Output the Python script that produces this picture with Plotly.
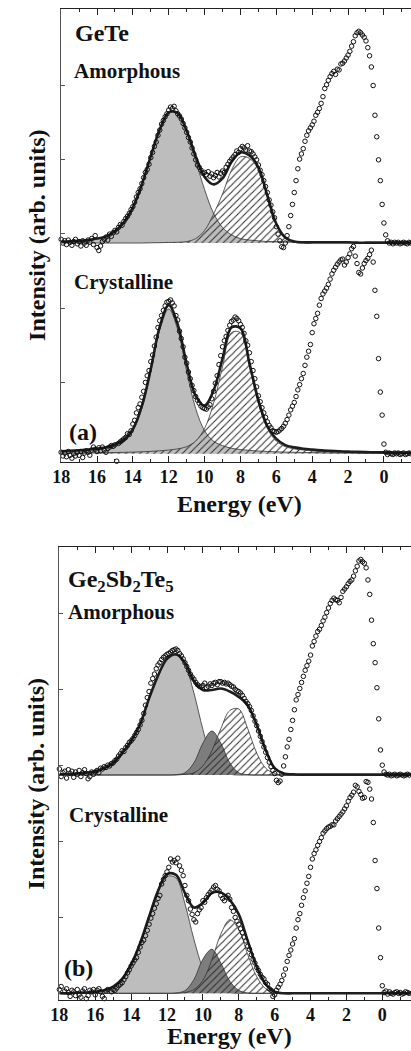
import numpy as np
import plotly.graph_objects as go

# ---------------- data (intensity above each spectrum's own baseline, arb. units) -------------
E_DATA = np.round(np.arange(18.0, -1.55, -0.1), 2)   # measured energies, 18.0 ... -1.5 eV
E_FIT = np.round(np.arange(18.0, -2.05, -0.5), 2)    # fit-curve sampling, 18.0 ... -2.0 eV

GETE_AMO = [
    0.05, 0.00, 0.03, -0.02, 0.04, 0.01, -0.03, 0.02, 0.05, -0.01,
    0.02, -0.04, 0.03, 0.00, -0.03, 0.04, 0.01, 0.06, -0.02, 0.10,
    -0.06, -0.10, -0.04, 0.02, 0.05, 0.08, 0.04, 0.12, 0.09, 0.14,
    0.17, 0.15, 0.21, 0.25, 0.24, 0.29, 0.33, 0.36, 0.40, 0.45,
    0.49, 0.55, 0.62, 0.68, 0.73, 0.80, 0.88, 0.95, 0.99, 1.06,
    1.15, 1.22, 1.30, 1.36, 1.45, 1.52, 1.60, 1.65, 1.70, 1.74,
    1.79, 1.83, 1.81, 1.84, 1.78, 1.74, 1.71, 1.67, 1.61, 1.55,
    1.49, 1.42, 1.36, 1.28, 1.20, 1.12, 1.05, 1.02, 0.98, 0.94,
    0.95, 0.92, 0.96, 0.90, 0.93, 0.88, 0.91, 0.95, 0.89, 0.94,
    0.97, 0.95, 1.02, 1.06, 1.10, 1.13, 1.16, 1.19, 1.24, 1.22,
    1.27, 1.30, 1.28, 1.25, 1.31, 1.24, 1.23, 1.20, 1.16, 1.12,
    1.05, 0.98, 0.92, 0.84, 0.76, 0.68, 0.58, 0.51, 0.42, 0.34,
    0.22, 0.12, 0.03, -0.05, -0.06, 0.00, 0.10, 0.22, 0.37, 0.52,
    0.68, 0.84, 1.00, 1.13, 1.20, 1.27, 1.37, 1.45, 1.51, 1.55,
    1.59, 1.64, 1.72, 1.76, 1.81, 1.88, 1.97, 2.08, 2.13, 2.19,
    2.24, 2.28, 2.31, 2.27, 2.34, 2.33, 2.41, 2.42, 2.45, 2.49,
    2.53, 2.58, 2.65, 2.71, 2.79, 2.83, 2.85, 2.83, 2.80, 2.77,
    2.72, 2.63, 2.52, 2.37, 2.12, 1.72, 1.43, 1.12, 0.84, 0.52,
    0.27, 0.11, 0.03, 0.00, 0.01, -0.01, 0.01, 0.00, 0.01, -0.01,
    0.00, 0.01, 0.00, -0.01, 0.01, 0.00,
]
GETE_CRY = [
    0.02, -0.03, 0.01, -0.04, 0.03, -0.02, -0.06, 0.00, -0.03, 0.02,
    -0.02, 0.03, -0.05, 0.01, 0.04, 0.02, -0.02, 0.05, 0.09, 0.06,
    0.03, 0.08, 0.04, 0.09, 0.05, 0.02, 0.07, 0.09, 0.11, 0.10,
    0.12, -0.10, 0.14, 0.16, 0.18, 0.20, 0.22, 0.27, 0.26, 0.31,
    0.40, 0.45, 0.55, 0.62, 0.67, 0.76, 0.84, 0.96, 1.05, 1.12,
    1.24, 1.33, 1.45, 1.57, 1.70, 1.79, 1.86, 1.93, 1.99, 2.04,
    2.05, 2.07, 2.03, 1.99, 1.86, 1.80, 1.65, 1.55, 1.44, 1.30,
    1.22, 1.10, 1.01, 0.92, 0.85, 0.77, 0.72, 0.68, 0.64, 0.62,
    0.61, 0.60, 0.63, 0.66, 0.74, 0.84, 0.95, 1.05, 1.20, 1.32,
    1.44, 1.52, 1.58, 1.66, 1.73, 1.78, 1.80, 1.84, 1.82, 1.79,
    1.74, 1.70, 1.62, 1.52, 1.46, 1.36, 1.24, 1.12, 1.01, 0.90,
    0.78, 0.70, 0.62, 0.55, 0.49, 0.43, 0.38, 0.35, 0.31, 0.30,
    0.29, 0.30, 0.32, 0.34, 0.37, 0.41, 0.46, 0.52, 0.59, 0.64,
    0.69, 0.77, 0.86, 0.93, 1.01, 1.08, 1.19, 1.30, 1.38, 1.47,
    1.63, 1.75, 1.82, 1.89, 2.00, 2.09, 2.15, 2.19, 2.23, 2.28,
    2.35, 2.42, 2.47, 2.51, 2.55, 2.58, 2.61, 2.62, 2.54, 2.58,
    2.64, 2.69, 2.76, 2.79, 2.66, 2.56, 2.44, 2.42, 2.50, 2.56,
    2.60, 2.63, 2.68, 2.74, 2.58, 2.20, 1.85, 1.28, 0.83, 0.52,
    0.13, 0.02, -0.01, 0.01, 0.00, -0.01, 0.01, 0.00, 0.01, -0.01,
    0.00, 0.01, -0.01, 0.00, 0.01, 0.00,
]
GST_AMO = [
    0.08, -0.02, 0.03, 0.05, -0.04, 0.07, 0.02, 0.05, -0.03, 0.04,
    0.01, 0.06, -0.02, 0.03, 0.07, 0.02, -0.05, -0.02, 0.04, 0.01,
    0.04, 0.06, 0.03, 0.09, 0.08, 0.11, 0.10, 0.13, 0.12, 0.15,
    0.16, 0.19, 0.21, 0.25, 0.28, 0.32, 0.31, 0.36, 0.39, 0.43,
    0.45, 0.48, 0.52, 0.56, 0.60, 0.66, 0.72, 0.81, 0.92, 1.02,
    1.10, 1.21, 1.27, 1.33, 1.40, 1.45, 1.48, 1.52, 1.55, 1.57,
    1.59, 1.60, 1.62, 1.64, 1.65, 1.66, 1.64, 1.60, 1.57, 1.53,
    1.48, 1.43, 1.38, 1.33, 1.29, 1.26, 1.22, 1.19, 1.17, 1.16,
    1.18, 1.21, 1.15, 1.17, 1.20, 1.18, 1.21, 1.22, 1.19, 1.23,
    1.23, 1.21, 1.22, 1.20, 1.21, 1.19, 1.17, 1.16, 1.13, 1.11,
    1.10, 1.08, 1.05, 1.01, 0.97, 0.94, 0.90, 0.85, 0.78, 0.71,
    0.65, 0.58, 0.51, 0.44, 0.37, 0.30, 0.23, 0.17, 0.11, 0.06,
    0.02, -0.07, -0.10, -0.08, 0.01, 0.12, 0.24, 0.37, 0.47, 0.60,
    0.72, 0.86, 0.99, 1.06, 1.14, 1.22, 1.30, 1.38, 1.44, 1.50,
    1.58, 1.70, 1.76, 1.83, 1.89, 1.92, 1.97, 2.03, 2.08, 2.14,
    2.20, 2.26, 2.30, 2.33, 2.31, 2.30, 2.27, 2.34, 2.42, 2.45,
    2.48, 2.52, 2.55, 2.57, 2.62, 2.69, 2.75, 2.82, 2.84, 2.81,
    2.79, 2.73, 2.57, 2.38, 2.04, 1.73, 1.48, 1.15, 0.74, 0.33,
    0.13, 0.04, 0.01, 0.00, 0.01, -0.01, 0.00, 0.01, -0.01, 0.00,
    0.01, 0.00, -0.01, 0.00, 0.01, 0.00,
]
GST_CRY = [
    0.05, 0.09, -0.11, 0.03, 0.06, 0.01, -0.04, 0.04, 0.02, -0.03,
    0.05, -0.02, -0.05, 0.03, 0.06, -0.07, -0.03, 0.04, 0.02, 0.05,
    -0.02, 0.04, 0.06, 0.02, -0.04, -0.07, 0.03, 0.05, -0.10, 0.02,
    0.05, 0.04, 0.07, 0.10, 0.12, 0.14, 0.18, 0.22, 0.27, 0.31,
    0.36, 0.40, 0.44, 0.47, 0.54, 0.61, 0.67, 0.70, 0.76, 0.83,
    0.91, 0.99, 1.05, 1.12, 1.18, 1.25, 1.29, 1.44, 1.50, 1.55,
    1.60, 1.66, 1.77, 1.73, 1.75, 1.72, 1.78, 1.68, 1.62, 1.55,
    1.42, 1.29, 1.22, 1.11, 1.04, 0.97, 0.94, 1.05, 1.10, 1.13,
    1.22, 1.20, 1.26, 1.30, 1.33, 1.36, 1.40, 1.42, 1.37, 1.35,
    1.29, 1.25, 1.22, 1.27, 1.29, 1.24, 1.13, 1.08, 1.00, 0.95,
    0.91, 0.85, 0.80, 0.74, 0.69, 0.62, 0.58, 0.51, 0.45, 0.40,
    0.34, 0.30, 0.25, 0.21, 0.19, 0.14, 0.12, 0.06, 0.04, -0.04,
    -0.02, 0.04, 0.08, 0.12, 0.17, 0.24, 0.32, 0.42, 0.50, 0.57,
    0.65, 0.72, 0.86, 0.97, 1.05, 1.16, 1.26, 1.35, 1.45, 1.54,
    1.66, 1.77, 1.84, 1.89, 1.95, 2.00, 2.05, 2.11, 2.14, 2.17,
    2.19, 2.20, 2.22, 2.22, 2.27, 2.30, 2.33, 2.36, 2.39, 2.43,
    2.47, 2.53, 2.58, 2.61, 2.65, 2.74, 2.72, 2.66, 2.62, 2.57,
    2.58, 2.79, 2.78, 2.69, 2.56, 2.25, 1.75, 1.38, 0.86, 0.47,
    0.10, 0.01, 0.03, -0.01, 0.02, 0.00, -0.01, 0.01, 0.02, 0.00,
    0.01, -0.01, 0.00, 0.02, 0.01, 0.00,
]

# fitted components (sampled on E_FIT)
GETE_AMO_G = [0.02, 0.02, 0.03, 0.04, 0.06, 0.09, 0.16, 0.28, 0.48, 0.79, 1.17, 1.53, 1.75, 1.74,
              1.49, 1.11, 0.72, 0.40, 0.21, 0.11, 0.06, 0.04, 0.03, 0.02, 0.02, 0.015, 0.01, 0.01,
              0.01, 0.01, 0.01, 0.01, 0.01, 0.005, 0.005, 0.005, 0.005, 0.005, 0.005, 0.005, 0.005]
GETE_AMO_H = [0, 0, 0, 0, 0, 0, 0, 0, 0, 0, 0.003, 0.005, 0.008, 0.01, 0.02, 0.06, 0.17, 0.39,
              0.66, 0.98, 1.16, 1.14, 0.99, 0.62, 0.24, 0.06, 0.01, 0, 0, 0, 0, 0, 0, 0, 0, 0,
              0, 0, 0, 0, 0]
GETE_AMO_FIT = [0.02, 0.02, 0.03, 0.04, 0.06, 0.09, 0.16, 0.28, 0.48, 0.79, 1.17, 1.53, 1.76, 1.75,
                1.51, 1.17, 0.89, 0.79, 0.87, 1.09, 1.22, 1.18, 1.02, 0.64, 0.26, 0.075, 0.02, 0.01,
                0.01, 0.01, 0.01, 0.01, 0.01, 0.005, 0.005, 0.005, 0.005, 0.005, 0.005, 0.005, 0.005]

GETE_CRY_G = [0.026, 0.031, 0.037, 0.045, 0.057, 0.074, 0.11, 0.17, 0.31, 0.61, 1.11, 1.67, 1.95,
              1.67, 1.11, 0.61, 0.31, 0.17, 0.11, 0.074, 0.057, 0.045, 0.037, 0.031, 0.026, 0.022,
              0.020, 0.018, 0.016, 0.014, 0.012, 0.011, 0.010, 0.009, 0.008, 0.007, 0.007, 0.006,
              0.006, 0.005, 0.005]
GETE_CRY_H = [0.008, 0.009, 0.010, 0.011, 0.013, 0.014, 0.016, 0.019, 0.022, 0.027, 0.032, 0.040,
              0.050, 0.066, 0.095, 0.17, 0.34, 0.68, 1.17, 1.63, 1.63, 1.17, 0.68, 0.34, 0.17, 0.095,
              0.066, 0.050, 0.040, 0.032, 0.027, 0.022, 0.019, 0.016, 0.014, 0.013, 0.011, 0.010,
              0.009, 0.008, 0.008]
GETE_CRY_FIT = [0.034, 0.040, 0.047, 0.056, 0.070, 0.088, 0.126, 0.19, 0.33, 0.64, 1.14, 1.71, 2.00,
                1.74, 1.21, 0.78, 0.65, 0.85, 1.28, 1.70, 1.69, 1.22, 0.72, 0.37, 0.20, 0.117, 0.086,
                0.068, 0.056, 0.046, 0.039, 0.033, 0.029, 0.025, 0.022, 0.020, 0.018, 0.016, 0.015,
                0.013, 0.013]

GST_AMO_G = [0.01, 0.01, 0.02, 0.03, 0.05, 0.09, 0.16, 0.28, 0.44, 0.66, 1.00, 1.30, 1.52, 1.58,
             1.45, 1.08, 0.60, 0.21, 0.05, 0.01, 0, 0, 0, 0, 0, 0, 0, 0, 0, 0, 0, 0, 0, 0, 0, 0,
             0, 0, 0, 0, 0]
GST_AMO_D = [0, 0, 0, 0, 0, 0, 0, 0, 0, 0, 0, 0, 0, 0.005, 0.03, 0.16, 0.42, 0.58, 0.42, 0.16,
             0.03, 0.005, 0, 0, 0, 0, 0, 0, 0, 0, 0, 0, 0, 0, 0, 0, 0, 0, 0, 0, 0]
GST_AMO_H = [0, 0, 0, 0, 0, 0, 0, 0, 0, 0, 0, 0, 0, 0, 0.01, 0.03, 0.12, 0.32, 0.61, 0.85, 0.87,
             0.61, 0.29, 0.09, 0.02, 0, 0, 0, 0, 0, 0, 0, 0, 0, 0, 0, 0, 0, 0, 0, 0]
GST_AMO_FIT = [0.01, 0.01, 0.02, 0.03, 0.05, 0.09, 0.16, 0.29, 0.45, 0.67, 1.01, 1.31, 1.53, 1.59,
               1.48, 1.24, 1.12, 1.12, 1.14, 1.10, 1.03, 0.92, 0.66, 0.33, 0.09, 0.02, 0.01, 0.005,
               0.005, 0.005, 0.005, 0.005, 0.005, 0.005, 0.005, 0.005, 0.005, 0.005, 0.005, 0.005,
               0.005]

GST_CRY_G = [0.0, 0.01, 0.01, 0.01, 0.02, 0.03, 0.07, 0.17, 0.36, 0.64, 1.00, 1.33, 1.54, 1.52,
             1.18, 0.71, 0.33, 0.12, 0.03, 0.01, 0, 0, 0, 0, 0, 0, 0, 0, 0, 0, 0, 0, 0, 0, 0, 0,
             0, 0, 0, 0, 0]
GST_CRY_D = [0, 0, 0, 0, 0, 0, 0, 0, 0, 0, 0, 0, 0, 0.005, 0.035, 0.18, 0.45, 0.58, 0.40, 0.16,
             0.04, 0.005, 0, 0, 0, 0, 0, 0, 0, 0, 0, 0, 0, 0, 0, 0, 0, 0, 0, 0, 0]
GST_CRY_H = [0, 0, 0, 0, 0, 0, 0, 0, 0, 0, 0, 0, 0, 0, 0.01, 0.05, 0.17, 0.44, 0.78, 0.97, 0.84,
             0.51, 0.22, 0.06, 0.01, 0, 0, 0, 0, 0, 0, 0, 0, 0, 0, 0, 0, 0, 0, 0, 0]
GST_CRY_FIT = [0.0, 0.0, 0.01, 0.01, 0.02, 0.04, 0.09, 0.19, 0.38, 0.66, 1.01, 1.35, 1.57, 1.56,
               1.32, 1.13, 1.19, 1.32, 1.33, 1.23, 1.04, 0.69, 0.35, 0.12, 0.02, 0, 0, 0, 0, 0, 0,
               0, 0, 0, 0, 0, 0, 0, 0, 0, 0]

X_TICKS = [18, 16, 14, 12, 10, 8, 6, 4, 2, 0]

# ---------------- layout constants ----------------
W, H = 411, 1051
def px(x):
    return x / W
def py(y):
    return 1 - y / H

FONT = "Liberation Serif, Times New Roman, Times, serif"
LIGHT = "#bdbdbd"
DARK = "#7d7d7d"
INK = "#1e1e1e"
OFF_AMO = 2.876

fig = go.Figure()


def add_spectrum(xa, ya, off, data, comps, fit):
    n = len(E_FIT)
    for vals, kind in comps:
        fig.add_trace(go.Scatter(x=E_FIT, y=[off] * n, mode="lines", line=dict(width=0),
                                 xaxis=xa, yaxis=ya, hoverinfo="skip", showlegend=False))
        kw = dict(x=E_FIT, y=[v + off for v in vals], mode="lines", fill="tonexty",
                  line=dict(color="#333333", width=0.8, shape="spline"),
                  xaxis=xa, yaxis=ya, hoverinfo="skip", showlegend=False)
        if kind == "light":
            kw["fillcolor"] = LIGHT
        elif kind == "dark":
            kw["fillcolor"] = DARK
        else:
            kw["fillcolor"] = "rgba(0,0,0,0)"
            kw["fillpattern"] = dict(shape="/", fgcolor="#2a2a2a", bgcolor="rgba(0,0,0,0)",
                                     size=5, solidity=0.2, fillmode="replace")
        fig.add_trace(go.Scatter(**kw))
    fig.add_trace(go.Scatter(x=E_FIT, y=[v + off for v in fit], mode="lines",
                             line=dict(color=INK, width=2.6, shape="spline"),
                             xaxis=xa, yaxis=ya, hoverinfo="skip", showlegend=False))
    fig.add_trace(go.Scatter(x=E_DATA, y=[v + off for v in data], mode="markers",
                             marker=dict(symbol="circle-open", size=4.5, color="#111111",
                                         line=dict(width=1)),
                             cliponaxis=False, xaxis=xa, yaxis=ya, hoverinfo="skip",
                             showlegend=False))


# panel (a)
add_spectrum("x", "y", OFF_AMO, GETE_AMO,
             [(GETE_AMO_G, "light"), (GETE_AMO_H, "hatch")], GETE_AMO_FIT)
add_spectrum("x", "y", 0.04, GETE_CRY,
             [(GETE_CRY_G, "light"), (GETE_CRY_H, "hatch")], GETE_CRY_FIT)
# panel (b)
add_spectrum("x2", "y2", OFF_AMO, GST_AMO,
             [(GST_AMO_G, "light"), (GST_AMO_D, "dark"), (GST_AMO_H, "hatch")], GST_AMO_FIT)
add_spectrum("x2", "y2", 0.0, GST_CRY,
             [(GST_CRY_G, "light"), (GST_CRY_D, "dark"), (GST_CRY_H, "hatch")], GST_CRY_FIT)

tickfont = dict(family=FONT, size=18, color="#111111", weight="bold")


def xaxis_cfg(left_px, rng, anchor):
    return dict(domain=[px(left_px), 1.0], range=rng, autorange=False, anchor=anchor,
                showline=True, linecolor="#222222", linewidth=1.4, mirror="ticks",
                ticks="inside", ticklen=6, tickwidth=1.2, tickcolor="#222222",
                tickmode="array", tickvals=X_TICKS, ticktext=[str(t) for t in X_TICKS],
                tickfont=tickfont, ticklabelstandoff=-2,
                minor=dict(dtick=1, tick0=0, ticks="inside", ticklen=3, tickwidth=1,
                           tickcolor="#222222"),
                showgrid=False, zeroline=False)


def yaxis_cfg(top_px, bot_px, yrange, anchor):
    return dict(domain=[py(bot_px), py(top_px)], range=yrange, autorange=False, anchor=anchor,
                showline=True, linecolor="#555555", linewidth=1, mirror=False,
                ticks="inside", ticklen=4, tickwidth=1, tickcolor="#555555",
                tickmode="array", tickvals=[1, 2, 3, 4, 5], showticklabels=False,
                showgrid=False, zeroline=False)


fig.update_layout(
    width=W, height=H, margin=dict(l=0, r=0, t=0, b=0),
    paper_bgcolor="white", plot_bgcolor="white", showlegend=False,
    xaxis=xaxis_cfg(53.3, [18, -1.51], "y"),
    yaxis=yaxis_cfg(9, 462, [-0.071, 6.026], "x"),
    xaxis2=xaxis_cfg(51.5, [18, -1.60], "y2"),
    yaxis2=yaxis_cfg(546.7, 1000.3, [-0.092, 5.884], "x2"),
)


def label(text, x, y, size, xanchor="left", angle=0):
    fig.add_annotation(text="<b>" + text + "</b>", x=px(x), y=py(y), xref="paper", yref="paper",
                       xanchor=xanchor, yanchor="middle", showarrow=False, textangle=angle,
                       font=dict(family=FONT, size=size, color="#111111"))


label("GeTe", 65, 33, 24)
label("Amorphous", 64, 71, 21)
label("Crystalline", 64, 282, 21)
label("(a)", 59, 432, 24)
label("Energy (eV)", 236, 504, 24, "center")
label("Intensity (arb. units)", 28.5, 235, 24, "center", -90)

label("Ge<sub>2</sub>Sb<sub>2</sub>Te<sub>5</sub>", 58, 581, 24)
label("Amorphous", 58, 612, 21)
label("Crystalline", 59, 815, 21)
label("(b)", 54, 968, 24)
label("Energy (eV)", 225, 1036, 24, "center")
label("Intensity (arb. units)", 28, 784, 24, "center", -90)

fig.write_html("out.html")
